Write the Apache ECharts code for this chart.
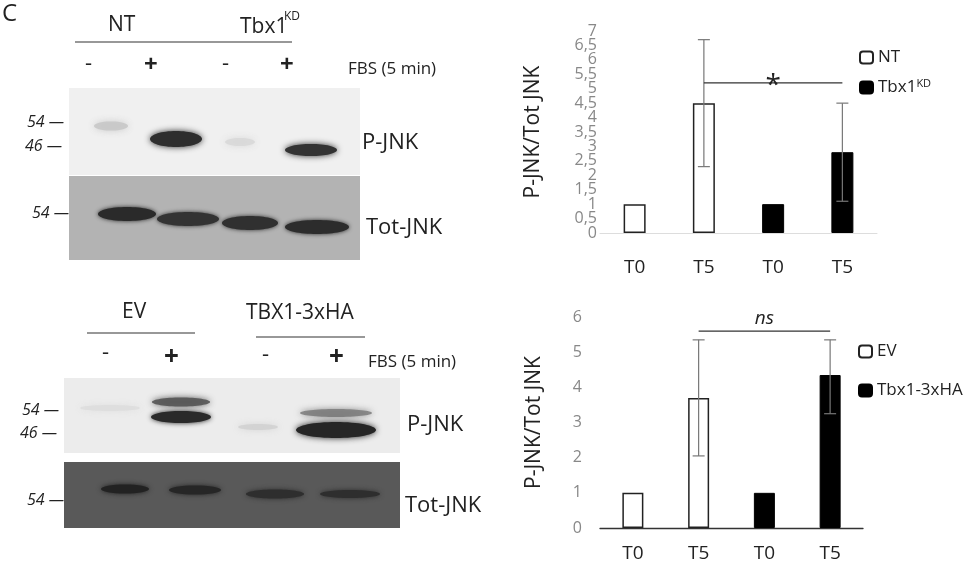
<!DOCTYPE html>
<html><head><meta charset="utf-8">
<script src="https://cdn.jsdelivr.net/npm/echarts@6/dist/echarts.min.js"></script>
<style>html,body{margin:0;padding:0;background:#fff}#c{width:971px;height:568px}</style>
</head><body><div id="c"></div>
<script>
const categories = ['T0','T5','T0','T5'];
const topNT = [1, 4.5, '-', '-'];
const topKD = ['-', '-', 1, 2.8];
const topErr = [[1, 2.3, 6.7], [3, 1.1, 4.5]];
const topSig = [1, 3, 5.2, '*'];
const topTicks = [0,0.5,1,1.5,2,2.5,3,3.5,4,4.5,5,5.5,6,6.5,7];
const botEV = [1, 3.7, '-', '-'];
const botHA = ['-', '-', 1, 4.35];
const botErr = [[1, 2.05, 5.35], [3, 3.25, 5.35]];
const botSig = [1, 3, 5.6, 'ns'];

const chart = echarts.init(document.getElementById('c'));
const F = 'Open Sans, Noto Sans, sans-serif';

function errSeries(data, xi, yi) {
  return {type:'custom', xAxisIndex:xi, yAxisIndex:yi, data:data, z:5,
    renderItem:(p, api) => {
      const x = api.value(0), lo = api.coord([x, api.value(1)]), hi = api.coord([x, api.value(2)]);
      const st = {stroke:'#777', lineWidth:1.2};
      return {type:'group', children:[
        {type:'line', shape:{x1:lo[0],y1:lo[1],x2:hi[0],y2:hi[1]}, style:st},
        {type:'line', shape:{x1:lo[0]-6,y1:lo[1],x2:lo[0]+6,y2:lo[1]}, style:st},
        {type:'line', shape:{x1:hi[0]-6,y1:hi[1],x2:hi[0]+6,y2:hi[1]}, style:st}]};
    }};
}
function sigSeries(d, xi, yi, italic, fs, dy) {
  return {type:'custom', xAxisIndex:xi, yAxisIndex:yi, data:[d], z:6,
    renderItem:(p, api) => {
      const a = api.coord([d[0], d[2]]), b = api.coord([d[1], d[2]]);
      return {type:'group', children:[
        {type:'line', shape:{x1:a[0],y1:a[1],x2:b[0],y2:b[1]}, style:{stroke:'#333', lineWidth:1.3}},
        {type:'text', style:{text:d[3], x:(a[0]+b[0])/2, y:a[1]+dy, align:'center', verticalAlign:'bottom',
          font:(italic?'italic ':'')+fs+'px '+F, fill:'#222'}}]};
    }};
}
function band(cx, cy, w, h, col, blur, op) {
  return {type:'ellipse', shape:{cx:cx, cy:cy, rx:w/2, ry:h/2},
    style:{fill:col, shadowBlur:blur, shadowColor:col, opacity:op}};
}
function txt(t, x, y, fs, opt) {
  return {type:'text', style:Object.assign({text:t, x:x, y:y, font:fs+'px '+F, fill:'#222', verticalAlign:'middle'}, opt||{})};
}
function line(x1,y1,x2,y2) { return {type:'line', shape:{x1,y1,x2,y2}, style:{stroke:'#333', lineWidth:1.2}}; }
const it = s => ({font:'italic '+s+'px '+F});
const bd = s => ({font:'bold '+s+'px '+F});

const g = [
  txt('C', 2, 14, 24),
  txt('NT', 108, 25, 21), txt('Tbx1', 240, 27, 21), txt('KD', 284, 17, 12),
  line(75,42,292,42),
  txt('-', 85, 64, 22), txt('+', 144, 65, 24, bd(24)), txt('-', 222, 64, 22), txt('+', 280, 65, 24, bd(24)),
  txt('FBS (5 min)', 348, 69, 17),
  {type:'rect', shape:{x:69,y:88,width:291,height:87}, style:{fill:'#f0f0f0'}},
  {type:'rect', shape:{x:69,y:176,width:291,height:84}, style:{fill:'#b3b3b3'}},
  band(111, 126, 34, 9, '#c8c8c8', 7, 0.9),
  band(176, 139, 52, 16, '#2e2e2e', 6, 1),
  band(240, 142, 30, 8, '#d8d8d8', 7, 0.9),
  band(311, 150, 52, 12, '#333', 6, 1),
  band(127, 214, 58, 14, '#2a2a2a', 4, 1),
  band(188, 219, 62, 14, '#333', 4, 1),
  band(250, 223, 56, 14, '#303030', 4, 1),
  band(317, 227, 64, 14, '#2c2c2c', 4, 1),
  txt('54 —', 27, 122, 16, it(16)), txt('46 —', 25, 146, 16, it(16)),
  txt('P-JNK', 362, 143, 22), txt('54 —', 32, 213, 16, it(16)), txt('Tot-JNK', 366, 228, 22),

  txt('EV', 122, 312, 21), txt('TBX1-3xHA', 246, 313, 21),
  line(87,333,195,333), line(256,337,365,337),
  txt('-', 102, 353, 22), txt('+', 164, 358, 26, bd(26)), txt('-', 262, 355, 22), txt('+', 329, 358, 26, bd(26)),
  txt('FBS (5 min)', 368, 362, 17),
  {type:'rect', shape:{x:64,y:378,width:336,height:75}, style:{fill:'#ececec'}},
  {type:'rect', shape:{x:64,y:462,width:336,height:66}, style:{fill:'#595959'}},
  band(110, 408, 60, 6, '#dcdcdc', 6, 0.8),
  band(181, 402, 58, 9, '#555', 6, 0.9),
  band(181, 417, 60, 12, '#2a2a2a', 5, 1),
  band(336, 413, 72, 8, '#777', 6, 0.8),
  band(336, 430, 80, 16, '#262626', 6, 1),
  band(258, 427, 40, 6, '#d0d0d0', 6, 0.8),
  band(125, 489, 48, 9, '#222', 5, 1),
  band(195, 490, 52, 9, '#262626', 5, 1),
  band(275, 494, 58, 9, '#2e2e2e', 5, 1),
  band(350, 494, 60, 8, '#2e2e2e', 5, 1),
  txt('54 —', 22, 410, 16, it(16)), txt('46 —', 20, 433, 16, it(16)),
  txt('P-JNK', 407, 425, 22), txt('54 —', 27, 500, 16, it(16)), txt('Tot-JNK', 405, 506, 22)
];

chart.setOption({
  animation:false,
  graphic: g,
  legend:[
    {orient:'vertical', left:854, top:44, itemGap:12, itemWidth:13, itemHeight:12, data:['NT','Tbx1KD'],
      textStyle:{fontSize:17, fontFamily:F, color:'#222', rich:{s:{fontSize:11, verticalAlign:'top', padding:[0,0,8,0]}}},
      formatter: n => n==='Tbx1KD' ? 'Tbx1{s|KD}' : n},
    {orient:'vertical', left:853, top:338, itemGap:22, itemWidth:13, itemHeight:12, data:['EV','Tbx1-3xHA'],
      textStyle:{fontSize:17, fontFamily:F, color:'#222'}}
  ],
  grid:[
    {left:600, right:94, top:31, height:202},
    {left:600, right:108, top:317, height:211}
  ],
  xAxis:[
    {type:'category', gridIndex:0, data:categories, axisTick:{show:false},
      axisLine:{lineStyle:{color:'#ddd'}}, axisLabel:{margin:25, fontSize:19, color:'#222', fontFamily:F}},
    {type:'category', gridIndex:1, data:categories, axisTick:{show:false},
      axisLine:{lineStyle:{color:'#333', width:1.3}}, axisLabel:{margin:16, fontSize:19, color:'#222', fontFamily:F}}
  ],
  yAxis:[
    {type:'value', gridIndex:0, min:0, max:7, interval:0.5, splitLine:{show:false},
      axisLine:{show:false}, axisTick:{show:false}, axisLabel:{show:false},
      name:'P-JNK/Tot JNK', nameLocation:'middle', nameGap:56, nameTextStyle:{fontSize:21, color:'#222', fontFamily:F}},
    {type:'value', gridIndex:1, min:0, max:6, interval:1, splitLine:{show:false},
      axisLine:{show:false}, axisTick:{show:false},
      axisLabel:{fontSize:16, color:'#888', fontFamily:F, margin:18},
      name:'P-JNK/Tot JNK', nameLocation:'middle', nameGap:55, nameTextStyle:{fontSize:21, color:'#222', fontFamily:F}}
  ],
  series:[
    {name:'NT', type:'bar', stack:'a', xAxisIndex:0, yAxisIndex:0, data:topNT, barWidth:22,
      itemStyle:{color:'#fff', borderColor:'#222', borderWidth:1.5}},
    {name:'Tbx1KD', type:'bar', stack:'a', xAxisIndex:0, yAxisIndex:0, data:topKD, barWidth:22,
      itemStyle:{color:'#000', borderColor:'#000', borderWidth:1}},
    errSeries(topErr, 0, 0),
    sigSeries(topSig, 0, 0, false, 28, 17),
    {type:'custom', xAxisIndex:0, yAxisIndex:0, data:topTicks.map(v=>[0,v]), silent:true,
      renderItem:(p, api) => {
        const v = api.value(1), c = api.coord([0, v]);
        return {type:'text', style:{text:String(v).replace('.',','), x:p.coordSys.x-3, y:c[1],
          align:'right', verticalAlign:'middle', font:'16px '+F, fill:'#888'}};
      }},
    {name:'EV', type:'bar', stack:'b', xAxisIndex:1, yAxisIndex:1, data:botEV, barWidth:21,
      itemStyle:{color:'#fff', borderColor:'#222', borderWidth:1.5}},
    {name:'Tbx1-3xHA', type:'bar', stack:'b', xAxisIndex:1, yAxisIndex:1, data:botHA, barWidth:21,
      itemStyle:{color:'#000', borderColor:'#000', borderWidth:1}},
    errSeries(botErr, 1, 1),
    sigSeries(botSig, 1, 1, true, 19, -3)
  ]
});
</script></body></html>
